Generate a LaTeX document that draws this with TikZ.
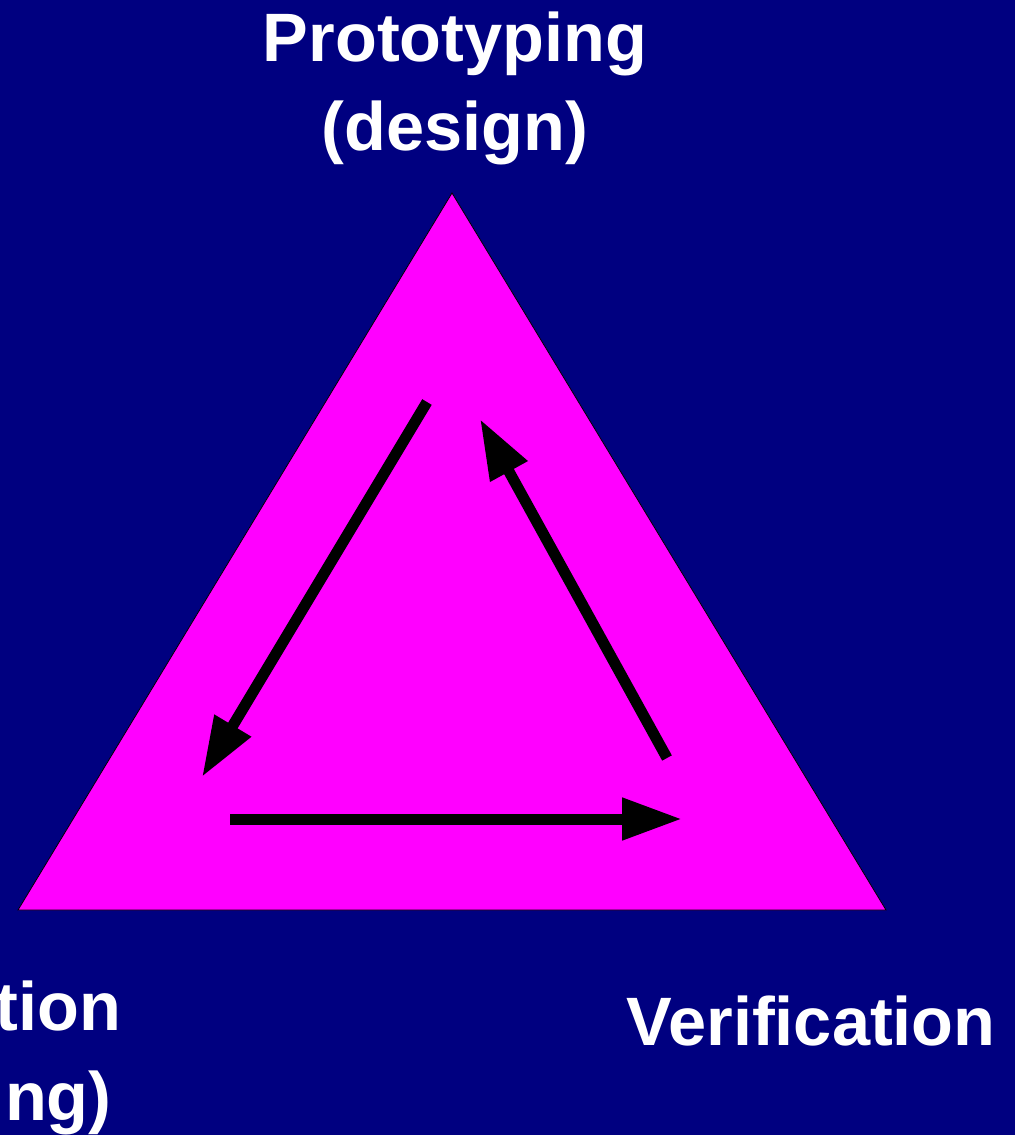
\documentclass[tikz,border=0pt]{standalone}
\usepackage{fontspec}
\setmainfont{Liberation Sans}
\usetikzlibrary{arrows.meta}
\definecolor{slide}{HTML}{000080}
\definecolor{wedge}{HTML}{FF00FF}

\tikzset{
  phase/.style={text=white, font=\bfseries\fontsize{68.5}{89.5}\selectfont,
    align=center, inner sep=0pt, anchor=base},
  flow/.style={-{Triangle[length=60pt,width=40pt]}, line width=11pt, black},
}

\begin{document}
\begin{tikzpicture}[x=1pt, y=-1pt]
\useasboundingbox (0,0) rectangle (1015,1135);
\clip (0,0) rectangle (1015,1135);
\fill[slide] (0,0) rectangle (1015,1135);
% triangle
\coordinate (top) at (452,193);
\coordinate (left) at (18,910);
\coordinate (right) at (886,910);
\filldraw[fill=wedge, draw=black, line width=0.8pt] (top) -- (left) -- (right) -- cycle;
% arrow ends
\coordinate (a1) at (427,402);  \coordinate (b1) at (202,777);
\coordinate (a2) at (230,819);  \coordinate (b2) at (682,819);
\coordinate (a3) at (667,758);  \coordinate (b3) at (480,419);
\foreach \k in {1,2,3}
  \draw[flow] (a\k) -- (b\k);
% labels (base = last line)
\node[phase] (proto) at (455,150.5) {Prototyping\\(design)};
\node[phase] (impl) at (-132,1120) {Implementation\\(programming)};
\node[phase] (verif) at (811,1045) {Verification};
\end{tikzpicture}
\end{document}
